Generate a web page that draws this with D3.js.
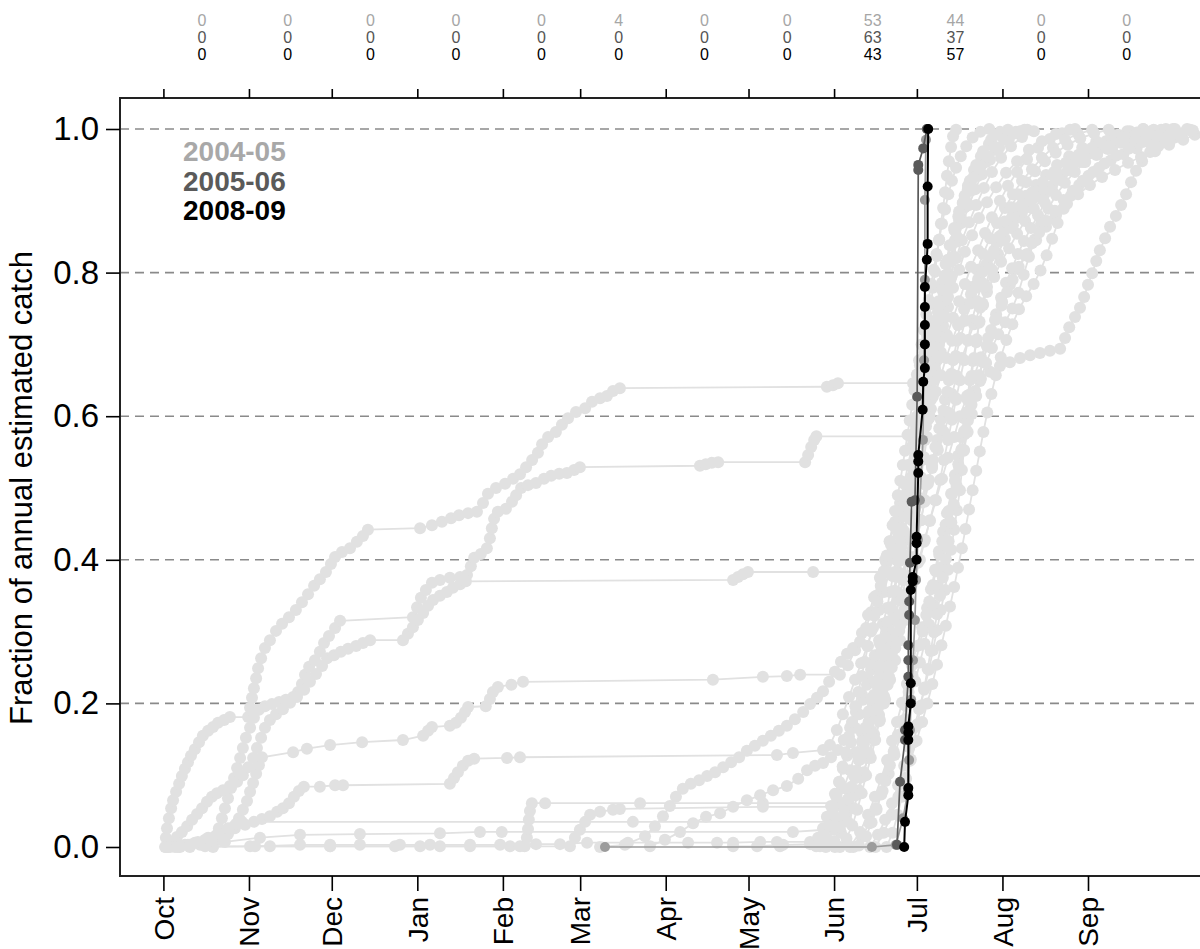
<!DOCTYPE html>
<html>
<head>
<meta charset="utf-8">
<script src="https://cdn.jsdelivr.net/npm/d3@7"></script>
<style>
  body { margin: 0; background: #fff; }
  svg { display: block; font-family: "Liberation Sans", Arial, sans-serif; }
</style>
</head>
<body>
<svg width="1200" height="949"></svg>
<script>
// Cumulative fraction of annual catch by day of season (day 0 = 1 Oct)
// Each run: [day of season, fraction]

// grey background seasons
var grey1 = [[0.6,0],[0.9,0.013],[1.3,0.026],[2.0,0.040],[2.8,0.054],[3.5,0.065],[4.6,0.077],[5.7,0.088],[6.7,0.099],[7.8,0.109],[8.9,0.118],[10.0,0.127],[11.4,0.136],[12.9,0.146],[14.3,0.155],[16.2,0.162],[18.0,0.167],[19.8,0.173],[22.0,0.177],[24.1,0.181],[30.7,0.181],[31.4,0.194],[32.1,0.208],[32.8,0.221],[33.6,0.235],[34.3,0.249],[35.4,0.263],[36.8,0.277],[38.6,0.288],[40.8,0.301],[43.0,0.311],[45.5,0.320],[48.0,0.330],[50.2,0.341],[52.4,0.352],[54.6,0.364],[56.7,0.373],[58.9,0.383],[60.7,0.394],[62.2,0.404],[64.7,0.411],[67.6,0.416],[70.1,0.425],[72.3,0.433],[74.1,0.442],[93.0,0.444],[97.3,0.448],[100.9,0.453],[104.2,0.458],[107.1,0.462],[110.4,0.465],[113.6,0.467],[115.8,0.479],[117.6,0.492],[120.5,0.500],[123.8,0.506],[126.7,0.513],[129.2,0.519],[131.4,0.529],[133.6,0.539],[135.7,0.549],[137.2,0.561],[139.4,0.571],[142.2,0.578],[144.4,0.588],[146.6,0.597],[149.5,0.606],[152.8,0.611],[155.3,0.620],[158.2,0.625],[160.7,0.628],[162.9,0.635],[165.4,0.639],[240.4,0.641],[242.6,0.643],[244.4,0.646],[271.6,0.646],[274.1,0.671],[276.3,0.695],[278.5,0.720],[280.6,0.745],[282.8,0.770],[285.0,0.795],[287.2,0.820],[289.3,0.845],[291.9,0.870],[294.5,0.894],[297.3,0.918],[300.2,0.940],[303.5,0.960],[307.1,0.976],[311.1,0.989],[315.4,0.997]];
var grey2 = [[18.0,0],[19.1,0.013],[20.1,0.026],[21.2,0.040],[22.3,0.054],[23.4,0.068],[24.5,0.082],[25.6,0.096],[26.7,0.110],[27.8,0.124],[28.8,0.138],[29.9,0.152],[31.4,0.166],[32.8,0.180],[34.6,0.191],[36.8,0.196],[39.3,0.199],[41.9,0.202],[44.4,0.205],[47.0,0.209],[48.8,0.216],[50.2,0.227],[51.3,0.240],[52.8,0.251],[54.9,0.260],[56.7,0.272],[58.2,0.284],[60.0,0.294],[62.2,0.305],[64.0,0.315],[90.4,0.320],[91.9,0.334],[93.3,0.347],[95.1,0.358],[97.3,0.368],[100.2,0.372],[103.8,0.375],[107.5,0.376],[110.0,0.379],[111.4,0.391],[112.6,0.403],[115.0,0.408],[117.2,0.416],[118.3,0.430],[119.0,0.444],[119.8,0.457],[121.2,0.467],[124.1,0.471],[126.3,0.481],[127.8,0.490],[129.6,0.500],[132.1,0.504],[135.0,0.507],[137.9,0.513],[140.5,0.517],[143.4,0.520],[146.2,0.521],[148.8,0.525],[150.9,0.529],[194.4,0.531],[196.5,0.533],[198.7,0.535],[201.0,0.536],[232.5,0.536],[233.6,0.546],[234.7,0.557],[235.8,0.567],[236.6,0.572],[270.5,0.572],[273.0,0.595],[275.2,0.618],[277.3,0.642],[279.6,0.666],[281.7,0.689],[283.9,0.713],[286.1,0.737],[288.3,0.760],[290.4,0.784],[292.6,0.808],[295.2,0.831],[297.7,0.855],[300.2,0.877],[303.1,0.900],[306.0,0.921],[309.3,0.940],[312.9,0.958],[316.9,0.974],[321.2,0.986],[325.6,0.994],[330.3,1]];
var grey3 = [[1.7,0],[3.1,0.007],[4.9,0.014],[6.7,0.021],[8.6,0.029],[10.4,0.038],[12.2,0.046],[14.0,0.054],[15.8,0.063],[17.6,0.070],[19.4,0.075],[21.6,0.079],[24.1,0.085],[26.7,0.091],[28.8,0.100],[30.7,0.111],[32.5,0.124],[33.9,0.138],[35.4,0.152],[36.8,0.166],[38.6,0.177],[40.8,0.185],[43.3,0.192],[45.9,0.201],[48.4,0.209],[51.0,0.219],[53.1,0.230],[55.3,0.241],[57.5,0.252],[59.3,0.263],[61.8,0.267],[64.3,0.272],[66.9,0.276],[69.8,0.280],[72.3,0.284],[74.9,0.288],[86.8,0.288],[88.6,0.297],[90.4,0.306],[92.2,0.316],[94.1,0.326],[95.9,0.336],[97.7,0.344],[100.2,0.350],[102.7,0.355],[104.9,0.361],[107.5,0.366],[109.6,0.370],[206.4,0.372],[208.2,0.376],[210.0,0.380],[211.8,0.383],[235.4,0.383],[265.1,0.383],[267.6,0.407],[269.8,0.430],[272.0,0.455],[274.1,0.480],[276.3,0.504],[278.5,0.528],[280.6,0.553],[282.8,0.578],[285.0,0.603],[287.2,0.625],[291.2,0.627],[295.9,0.649],[299.5,0.662],[303.1,0.670],[306.7,0.675],[310.4,0.681],[314.0,0.685],[317.6,0.688],[321.2,0.691],[324.9,0.694],[326.7,0.709],[328.2,0.724],[330.3,0.738],[332.1,0.751],[333.6,0.766],[335.0,0.783],[336.5,0.799],[338.0,0.816],[339.3,0.831],[341.2,0.848],[343.0,0.864],[345.1,0.879],[347.0,0.894],[348.8,0.909],[350.6,0.926],[352.4,0.942],[354.6,0.955],[357.5,0.968],[360.4,0.976],[363.3,0.983],[366.2,0.989],[369.1,0.994],[372.0,0.999]];
var grey4 = [[9.6,0],[13.3,0.003],[16.9,0.006],[20.5,0.010],[23.4,0.018],[25.6,0.029],[27.4,0.040],[28.8,0.052],[30.3,0.064],[31.4,0.077],[32.5,0.089],[33.6,0.102],[34.6,0.114],[35.7,0.125],[47.0,0.132],[52.0,0.137],[60.4,0.142],[72.0,0.146],[86.8,0.149],[94.1,0.155],[95.9,0.162],[97.3,0.167],[103.8,0.169],[106.0,0.173],[107.8,0.180],[109.3,0.188],[110.4,0.195],[116.8,0.196],[118.3,0.206],[119.4,0.216],[121.2,0.223],[126.1,0.226],[130.3,0.230],[199.1,0.233],[217.2,0.237],[225.9,0.238],[230.7,0.240],[245.1,0.240],[248.0,0.253],[250.6,0.274],[253.1,0.298],[255.3,0.323],[257.5,0.348],[259.6,0.375],[261.5,0.400],[263.3,0.426],[265.1,0.453],[266.9,0.479],[268.4,0.506],[269.8,0.532],[271.2,0.558],[272.7,0.585],[274.1,0.611],[275.6,0.638],[277.0,0.664],[278.5,0.691],[279.9,0.717],[281.4,0.744],[282.8,0.770],[284.3,0.797],[286.1,0.822],[287.9,0.847],[289.7,0.870],[291.9,0.894],[294.1,0.916],[296.6,0.937],[299.5,0.957],[302.8,0.974],[306.4,0.987],[310.4,0.997]];
var grey5 = [[4.2,0],[7.8,0.003],[11.4,0.006],[15.1,0.010],[18.7,0.015],[22.3,0.021],[25.9,0.026],[29.6,0.031],[32.8,0.035],[35.7,0.039],[38.6,0.043],[41.2,0.049],[43.3,0.054],[45.5,0.061],[47.3,0.070],[49.1,0.078],[50.9,0.084],[56.7,0.084],[62.2,0.086],[65.1,0.086],[103.8,0.088],[105.3,0.096],[106.7,0.104],[108.5,0.113],[110.4,0.120],[112.6,0.123],[124.5,0.124],[129.2,0.125],[222.3,0.128],[228.1,0.131],[239.0,0.135],[241.5,0.142],[244.0,0.163],[246.2,0.185],[248.4,0.209],[250.6,0.233],[252.8,0.256],[255.0,0.280],[257.1,0.305],[259.3,0.330],[261.1,0.355],[262.9,0.382],[264.7,0.408],[266.5,0.435],[268.0,0.461],[269.4,0.487],[270.9,0.514],[272.3,0.540],[273.8,0.567],[275.2,0.593],[276.7,0.620],[278.1,0.646],[279.6,0.673],[281.0,0.699],[282.5,0.726],[284.3,0.752],[286.1,0.779],[288.3,0.804],[290.4,0.829],[293.0,0.852],[295.5,0.876],[298.4,0.898],[301.7,0.919],[305.3,0.939],[309.3,0.955],[313.6,0.971],[318.3,0.983],[323.4,0.993],[328.5,0.999]];
var grey6 = [[2.4,0],[15.1,0.001],[31.4,0.001],[60.4,0.001],[83.9,0.001],[93.0,0.001],[111.1,0.001],[125.6,0.001],[130.9,0.001],[131.7,0.013],[132.1,0.025],[132.4,0.038],[132.8,0.050],[133.5,0.061],[138.3,0.061],[172.7,0.061],[217.2,0.061],[246.9,0.061],[249.5,0.079],[251.7,0.104],[253.5,0.130],[255.3,0.156],[257.1,0.182],[258.9,0.209],[260.7,0.235],[262.2,0.262],[263.6,0.288],[265.1,0.316],[266.5,0.344],[268.0,0.372],[269.1,0.400],[270.2,0.428],[271.2,0.455],[272.3,0.483],[273.4,0.511],[274.5,0.539],[275.6,0.567],[276.7,0.595],[277.7,0.623],[278.8,0.650],[279.9,0.678],[281.0,0.706],[282.1,0.734],[283.2,0.762],[284.3,0.790],[285.7,0.816],[287.2,0.843],[288.6,0.868],[290.4,0.891],[292.6,0.914],[295.2,0.935],[298.0,0.954],[301.3,0.971],[304.9,0.985],[308.9,0.996]];
var grey7 = [[5.3,0],[8.9,0.003],[12.5,0.007],[16.2,0.013],[19.8,0.019],[23.4,0.026],[26.3,0.032],[28.5,0.035],[170.1,0.035],[248.0,0.035],[250.2,0.054],[252.0,0.079],[253.8,0.104],[255.6,0.131],[257.5,0.157],[259.3,0.184],[261.1,0.210],[262.9,0.237],[264.3,0.263],[265.8,0.290],[267.2,0.316],[268.7,0.344],[270.2,0.372],[271.6,0.400],[273.0,0.428],[274.5,0.455],[275.9,0.483],[277.4,0.511],[278.8,0.539],[280.3,0.567],[281.7,0.595],[283.2,0.623],[284.6,0.650],[286.1,0.678],[287.5,0.705],[289.0,0.731],[290.8,0.756],[292.6,0.780],[294.8,0.804],[297.0,0.826],[299.5,0.848],[302.0,0.869],[304.9,0.890],[307.8,0.909],[311.1,0.928],[314.7,0.944],[318.3,0.960],[322.3,0.974],[326.7,0.985],[331.4,0.993],[336.5,0.999]];
var grey8 = [[0.9,0],[9.6,0.003],[22.3,0.007],[35.0,0.013],[49.5,0.017],[71.2,0.018],[100.2,0.019],[114.7,0.021],[122.6,0.021],[228.1,0.021],[239.7,0.024],[242.2,0.038],[244.4,0.058],[246.5,0.082],[248.8,0.107],[250.9,0.132],[253.1,0.159],[255.3,0.185],[257.5,0.212],[259.6,0.238],[261.5,0.265],[263.3,0.291],[265.1,0.318],[266.5,0.344],[268.0,0.372],[269.4,0.400],[270.5,0.428],[271.6,0.455],[272.7,0.483],[273.8,0.511],[274.9,0.539],[275.9,0.567],[277.0,0.595],[278.1,0.623],[279.2,0.650],[280.3,0.678],[281.4,0.706],[282.5,0.734],[283.6,0.762],[284.6,0.790],[285.7,0.818],[286.8,0.845],[288.3,0.872],[289.7,0.897],[291.5,0.921],[293.7,0.943],[296.2,0.962],[299.1,0.979],[302.4,0.992],[306.0,0.999]];
var grey9 = [[6.0,0],[38.6,0.001],[60.4,0.001],[100.2,0.001],[129.2,0.001],[147.3,0.001],[149.1,0.013],[150.9,0.024],[152.8,0.035],[154.6,0.045],[158.2,0.049],[162.9,0.052],[165.4,0.053],[217.2,0.056],[248.8,0.056],[250.9,0.072],[253.1,0.097],[255.3,0.124],[257.5,0.150],[259.6,0.177],[261.5,0.205],[263.3,0.233],[265.1,0.260],[266.9,0.288],[268.7,0.316],[270.5,0.344],[272.3,0.372],[274.1,0.400],[275.9,0.428],[277.7,0.455],[279.6,0.483],[281.4,0.511],[282.8,0.539],[284.3,0.567],[285.7,0.595],[287.2,0.623],[288.6,0.650],[290.1,0.678],[291.5,0.706],[293.0,0.734],[294.8,0.760],[296.6,0.786],[298.8,0.809],[301.0,0.831],[303.5,0.852],[306.4,0.872],[309.3,0.890],[312.6,0.907],[316.2,0.922],[319.8,0.936],[323.8,0.950],[328.2,0.962],[332.9,0.974],[338.0,0.983],[343.4,0.992],[349.2,0.997],[355.0,1]];
var grey10 = [[158.2,0],[167.2,0.003],[174.5,0.015],[178.1,0.029],[181.0,0.043],[183.5,0.057],[185.7,0.070],[188.2,0.081],[191.1,0.088],[194.1,0.093],[197.0,0.099],[199.9,0.104],[202.8,0.111],[205.7,0.118],[208.6,0.125],[211.4,0.134],[214.3,0.141],[217.2,0.148],[220.1,0.155],[223.0,0.162],[225.9,0.169],[228.8,0.178],[231.8,0.188],[234.3,0.199],[236.8,0.208],[239.0,0.217],[241.2,0.230],[243.3,0.244],[245.5,0.258],[247.7,0.269],[249.9,0.277],[252.4,0.286],[254.6,0.305],[256.4,0.327],[258.2,0.350],[260.0,0.373],[261.8,0.397],[263.6,0.421],[265.4,0.444],[267.2,0.468],[269.1,0.492],[270.9,0.515],[272.7,0.539],[274.5,0.563],[276.3,0.586],[278.1,0.610],[279.9,0.634],[281.7,0.657],[283.6,0.681],[285.7,0.705],[287.9,0.727],[290.1,0.749],[292.6,0.770],[295.2,0.791],[298.0,0.811],[301.0,0.829],[303.9,0.845],[307.1,0.862],[310.4,0.877],[314.0,0.891],[317.6,0.905],[321.2,0.918],[325.2,0.930],[329.2,0.943],[333.5,0.954],[337.9,0.964],[342.2,0.972],[346.9,0.981],[351.7,0.987],[356.4,0.993],[361.1,0.997],[365.8,1]];
var grey11 = [[176.3,0.001],[181.7,0.010],[187.2,0.021],[191.9,0.033],[196.6,0.042],[201.7,0.047],[206.4,0.056],[211.4,0.065],[216.2,0.072],[220.9,0.079],[225.9,0.085],[230.0,0.095],[233.2,0.107],[236.1,0.113],[239.0,0.117],[241.9,0.125],[244.4,0.135],[246.5,0.149],[248.8,0.166],[250.9,0.188],[253.1,0.212],[255.3,0.235],[257.5,0.259],[259.6,0.283],[261.8,0.306],[264.0,0.330],[265.8,0.355],[267.6,0.380],[269.4,0.405],[271.2,0.430],[273.0,0.455],[274.9,0.480],[276.7,0.506],[278.5,0.531],[280.3,0.556],[282.1,0.581],[283.9,0.606],[285.7,0.631],[287.5,0.656],[289.3,0.681],[291.5,0.705],[293.7,0.728],[295.9,0.751],[298.4,0.773],[301.0,0.794],[303.5,0.815],[306.4,0.834],[309.3,0.854],[312.2,0.872],[315.4,0.889],[318.7,0.905],[322.0,0.921],[325.6,0.936],[329.2,0.950],[333.2,0.962],[337.2,0.974],[341.5,0.983],[345.9,0.992],[350.2,0.997],[355.0,1]];
var grey12 = [[223.4,0.001],[237.9,0.001],[240.8,0.010],[243.0,0.024],[244.8,0.040],[246.5,0.058],[248.4,0.078],[250.2,0.099],[252.0,0.121],[253.8,0.143],[255.6,0.167],[257.5,0.191],[259.3,0.216],[261.1,0.241],[262.9,0.267],[264.7,0.294],[266.2,0.320],[267.6,0.348],[269.1,0.376],[270.2,0.404],[271.2,0.432],[272.3,0.460],[273.4,0.487],[274.5,0.515],[275.6,0.543],[276.7,0.571],[277.7,0.599],[278.8,0.627],[279.9,0.655],[281.0,0.682],[282.1,0.710],[283.2,0.738],[284.3,0.766],[285.4,0.794],[286.5,0.822],[287.5,0.850],[289.0,0.876],[290.4,0.903],[292.2,0.928],[294.5,0.950],[297.0,0.969],[299.9,0.985],[303.1,0.996]];
var grey13 = [[206.4,0.001],[215.1,0.001],[224.5,0.003],[234.3,0.004],[237.2,0.013],[239.0,0.026],[240.4,0.042],[241.9,0.057],[243.3,0.074],[244.8,0.091],[246.2,0.109],[247.7,0.127],[249.1,0.146],[250.6,0.166],[252.0,0.185],[253.5,0.205],[254.9,0.226],[256.4,0.247],[257.8,0.267],[259.3,0.288],[260.7,0.311],[262.2,0.333],[263.3,0.355],[264.3,0.377],[265.4,0.400],[266.5,0.422],[267.6,0.444],[268.7,0.467],[269.4,0.489],[270.2,0.511],[270.9,0.533],[271.6,0.556],[272.3,0.578],[273.0,0.600],[273.8,0.623],[274.5,0.645],[275.2,0.667],[275.9,0.689],[276.7,0.712],[277.4,0.734],[278.1,0.756],[278.8,0.779],[279.6,0.801],[280.3,0.823],[281.0,0.845],[281.7,0.868],[282.5,0.890],[283.2,0.912],[283.9,0.935],[284.6,0.955],[285.4,0.975],[286.1,0.990],[287.2,0.999]];
var grey14 = [[256.0,0],[258.9,0.017],[261.5,0.038],[264.0,0.061],[266.2,0.086],[268.4,0.113],[270.2,0.139],[272.0,0.166],[273.8,0.192],[275.6,0.219],[277.4,0.247],[278.8,0.274],[280.3,0.302],[281.7,0.330],[283.2,0.358],[284.3,0.386],[285.4,0.414],[286.5,0.442],[287.5,0.469],[288.6,0.497],[289.3,0.525],[290.1,0.553],[290.8,0.581],[291.5,0.606],[293.3,0.630],[295.2,0.653],[297.0,0.675],[298.4,0.698],[299.9,0.720],[301.7,0.742],[303.5,0.765],[305.3,0.786],[307.5,0.806],[309.6,0.826],[311.8,0.844],[314.3,0.862],[316.9,0.880],[319.4,0.897],[322.0,0.914],[324.9,0.929],[327.8,0.943],[331.0,0.955],[334.6,0.967],[338.6,0.975],[343.0,0.982],[347.3,0.987],[352.0,0.992],[356.7,0.996],[361.5,0.999],[366.5,1]];
var grey15 = [[248.8,0],[252.4,0.021],[255.3,0.045],[257.8,0.070],[260.0,0.095],[262.2,0.121],[264.0,0.148],[265.8,0.174],[267.6,0.201],[269.4,0.227],[271.2,0.253],[273.0,0.280],[274.9,0.306],[276.7,0.333],[278.1,0.359],[279.6,0.386],[281.0,0.412],[282.5,0.439],[283.9,0.465],[285.4,0.492],[286.8,0.518],[287.9,0.545],[289.0,0.571],[290.1,0.597],[291.2,0.624],[292.2,0.650],[293.3,0.677],[294.5,0.703],[295.5,0.730],[297.0,0.755],[298.4,0.780],[300.2,0.804],[302.4,0.826],[304.9,0.847],[307.8,0.866],[311.1,0.884],[314.7,0.901],[318.7,0.916],[323.1,0.930],[327.8,0.943],[332.9,0.954],[338.3,0.964],[343.7,0.972],[349.5,0.979],[355.3,0.985],[361.1,0.990],[366.9,0.994],[372.7,0.997]];
var grey16 = [[33.2,0.001],[49.5,0.003],[60.4,0.003],[71.2,0.003],[85.7,0.003],[96.6,0.003],[111.1,0.003],[122.0,0.003],[135.0,0.004],[143.7,0.004],[153.5,0.006],[168.3,0.006],[190.1,0.006],[200.6,0.006],[206.4,0.006],[216.2,0.007],[222.3,0.007],[234.3,0.007],[245.1,0.024],[247.3,0.049],[249.5,0.075],[251.7,0.103],[253.8,0.132],[256.0,0.162],[258.2,0.191],[260.4,0.220],[262.5,0.249],[264.7,0.279],[266.9,0.308],[269.1,0.337],[271.2,0.366],[273.4,0.396],[275.6,0.425],[277.7,0.454],[279.9,0.483],[282.1,0.513],[284.3,0.542],[286.5,0.571],[288.6,0.600],[291.2,0.628],[293.7,0.656],[296.2,0.682],[298.8,0.709],[301.3,0.734],[303.9,0.759],[306.7,0.783],[309.6,0.805],[312.9,0.826],[316.2,0.845],[319.8,0.864],[323.4,0.880],[327.4,0.896],[331.4,0.909],[335.7,0.922],[340.1,0.933],[344.8,0.943],[349.5,0.953],[354.2,0.961],[359.3,0.969],[364.4,0.978],[369.5,0.985],[373.7,0.992]];
var grey17 = [[245.1,0],[247.5,0.012],[249.6,0.030],[251.4,0.052],[253.0,0.075],[254.6,0.100],[256.3,0.124],[257.9,0.149],[259.4,0.175],[261.0,0.200],[262.4,0.226],[263.9,0.250],[265.2,0.277],[266.6,0.301],[268.1,0.327],[269.3,0.353],[270.6,0.378],[271.9,0.404],[273.1,0.429],[274.4,0.455],[275.8,0.481],[277.0,0.506],[278.4,0.532],[279.7,0.557],[281.1,0.583],[282.6,0.608],[284.0,0.634],[285.5,0.659],[287.1,0.684],[288.8,0.709],[290.6,0.733],[292.5,0.757],[294.6,0.779],[296.9,0.801],[299.3,0.822],[301.9,0.842],[304.8,0.861],[307.9,0.879],[311.2,0.896],[314.8,0.912],[318.6,0.926],[322.7,0.940],[327.0,0.953],[331.6,0.964],[336.5,0.974],[341.6,0.982],[347.0,0.989],[352.7,0.995],[358.8,0.999]];
var grey18 = [[250.0,0],[253.0,0.014],[255.8,0.033],[258.3,0.054],[260.6,0.078],[262.8,0.102],[264.9,0.128],[266.9,0.153],[268.8,0.178],[270.6,0.205],[272.4,0.231],[274.1,0.257],[275.8,0.283],[277.4,0.310],[279.0,0.337],[280.5,0.364],[282.0,0.390],[283.4,0.418],[284.8,0.445],[286.1,0.472],[287.4,0.500],[288.7,0.526],[290.0,0.552],[291.4,0.578],[292.9,0.603],[294.5,0.628],[296.2,0.652],[298.1,0.674],[300.2,0.695],[302.5,0.714],[305.0,0.731],[307.6,0.750],[309.8,0.772],[311.7,0.797],[313.6,0.822],[315.7,0.846],[318.0,0.868],[320.6,0.889],[323.4,0.908],[326.6,0.925],[330.2,0.940],[334.0,0.954],[338.2,0.966],[342.7,0.976],[347.5,0.985],[352.6,0.992],[357.9,0.997],[363.2,1]];
var grey19 = [[243.3,0],[245.5,0.020],[247.4,0.045],[249.2,0.070],[250.9,0.096],[252.5,0.122],[254.0,0.148],[255.5,0.174],[257.0,0.200],[258.4,0.226],[259.8,0.252],[261.2,0.278],[262.5,0.304],[263.8,0.330],[265.0,0.357],[266.2,0.383],[267.4,0.410],[268.5,0.436],[269.6,0.463],[270.7,0.490],[271.7,0.517],[272.7,0.544],[273.7,0.571],[274.7,0.598],[275.7,0.625],[276.7,0.652],[277.7,0.679],[278.7,0.706],[279.8,0.733],[280.9,0.760],[282.1,0.786],[283.4,0.812],[284.9,0.838],[286.5,0.862],[288.3,0.885],[290.3,0.907],[292.6,0.927],[295.2,0.945],[298.1,0.961],[301.3,0.975],[304.9,0.986],[308.8,0.994],[313.0,0.999]];
var grey20 = [[258.0,0],[261.0,0.020],[263.8,0.045],[266.3,0.070],[268.6,0.096],[270.8,0.122],[272.9,0.148],[274.9,0.174],[276.8,0.200],[278.6,0.227],[280.3,0.254],[281.9,0.281],[283.5,0.308],[285.0,0.335],[286.5,0.362],[287.9,0.389],[289.3,0.416],[290.6,0.443],[291.9,0.470],[293.2,0.497],[294.5,0.524],[295.8,0.551],[297.1,0.578],[298.5,0.605],[300.0,0.631],[301.6,0.657],[303.4,0.682],[305.4,0.706],[307.6,0.728],[310.0,0.749],[312.6,0.767],[315.3,0.784],[317.8,0.803],[320.0,0.824],[322.0,0.847],[324.0,0.869],[326.2,0.889],[328.8,0.907],[331.8,0.922],[335.2,0.935],[339.0,0.946],[343.2,0.956],[347.8,0.965],[352.6,0.973],[357.6,0.980],[362.8,0.987],[368.0,0.993],[373.0,0.998]];
var grey21 = [[240.0,0],[243.1,0.008],[245.0,0.027],[246.4,0.045],[247.9,0.066],[249.3,0.084],[250.6,0.106],[251.8,0.125],[253.1,0.147],[254.3,0.166],[255.6,0.189],[256.7,0.208],[258.0,0.231],[259.1,0.250],[260.3,0.273],[261.4,0.292],[262.5,0.314],[263.5,0.334],[264.6,0.356],[265.5,0.376],[266.5,0.398],[267.4,0.418],[268.3,0.440],[269.2,0.460],[270.1,0.482],[270.9,0.502],[271.8,0.524],[272.6,0.544],[273.5,0.566],[274.3,0.586],[275.1,0.608],[276.0,0.628],[276.8,0.650],[277.6,0.670],[278.5,0.692],[279.3,0.712],[280.2,0.734],[281.1,0.754],[282.1,0.776],[283.1,0.796],[284.2,0.818],[285.3,0.838],[286.6,0.859],[288.0,0.878],[289.6,0.897],[291.4,0.915],[293.4,0.932],[295.7,0.948],[298.3,0.962],[301.2,0.975],[304.4,0.986],[308.0,0.994],[312.0,0.999]];
var grey22 = [[252.0,0.002],[254.6,0.015],[256.6,0.034],[258.4,0.052],[260.1,0.073],[261.6,0.092],[263.2,0.114],[264.6,0.133],[266.1,0.156],[267.4,0.175],[268.8,0.197],[270.0,0.216],[271.4,0.239],[272.6,0.258],[273.9,0.281],[275.1,0.300],[276.4,0.323],[277.5,0.342],[278.8,0.365],[279.9,0.384],[281.1,0.407],[282.2,0.426],[283.4,0.449],[284.5,0.468],[285.7,0.491],[286.8,0.510],[288.0,0.533],[289.1,0.552],[290.3,0.575],[291.5,0.594],[292.8,0.616],[294.1,0.635],[295.5,0.657],[296.9,0.676],[298.5,0.697],[300.1,0.716],[301.9,0.736],[303.7,0.754],[305.7,0.773],[307.7,0.790],[309.9,0.808],[312.2,0.824],[314.7,0.841],[317.3,0.856],[320.1,0.872],[323.0,0.886],[326.2,0.901],[329.5,0.914],[333.1,0.928],[336.9,0.940],[341.0,0.952],[345.3,0.963],[349.9,0.973],[354.8,0.982],[359.9,0.990],[365.3,0.996],[370.9,1]];
var grey23 = [[236.5,0.001],[239.7,0.012],[241.3,0.030],[242.5,0.050],[243.8,0.070],[244.9,0.090],[246.1,0.112],[247.2,0.132],[248.4,0.154],[249.5,0.174],[250.7,0.196],[251.8,0.216],[253.0,0.238],[254.1,0.258],[255.3,0.280],[256.4,0.300],[257.6,0.322],[258.7,0.342],[259.9,0.364],[261.0,0.384],[262.1,0.406],[263.1,0.426],[264.2,0.448],[265.1,0.468],[266.1,0.490],[267.0,0.510],[267.9,0.532],[268.7,0.552],[269.6,0.574],[270.4,0.594],[271.3,0.616],[272.1,0.636],[273.0,0.658],[273.8,0.678],[274.7,0.700],[275.5,0.720],[276.4,0.742],[277.3,0.762],[278.2,0.784],[279.1,0.804],[280.1,0.826],[281.1,0.846],[282.1,0.868],[283.2,0.888],[284.4,0.909],[285.7,0.928],[287.2,0.946],[288.9,0.962],[290.9,0.976],[293.2,0.988],[296.0,0.996],[299.2,1]];
var grey24 = [[262.0,0],[264.2,0.020],[266.0,0.045],[267.6,0.070],[269.1,0.095],[270.5,0.120],[271.9,0.146],[273.2,0.171],[274.5,0.197],[275.7,0.222],[276.9,0.248],[278.0,0.273],[279.2,0.299],[280.3,0.324],[281.4,0.350],[282.4,0.375],[283.5,0.401],[284.5,0.426],[285.5,0.452],[286.4,0.477],[287.4,0.503],[288.3,0.528],[289.2,0.554],[290.1,0.579],[291.0,0.605],[291.9,0.630],[292.8,0.656],[293.7,0.681],[294.7,0.707],[295.7,0.732],[296.8,0.757],[298.0,0.781],[299.4,0.805],[301.0,0.828],[302.8,0.850],[304.8,0.871],[307.1,0.891],[309.7,0.909],[312.6,0.926],[315.8,0.941],[319.4,0.955],[323.3,0.967],[327.6,0.978],[332.2,0.987],[337.2,0.994],[342.5,0.999]];

var greyRuns = [grey1, grey2, grey3, grey4, grey5, grey6, grey7, grey8, grey9, grey10, grey11, grey12,
                grey13, grey14, grey15, grey16, grey17, grey18, grey19, grey20, grey21, grey22, grey23, grey24];

// highlighted seasons
var run2004 = [[160.0,0],[256.7,0],[265.4,0.003],[268.0,0.040],[269.8,0.079],[270.2,0.121],[270.5,0.163],[270.9,0.205],[271.6,0.260],[272.3,0.316],[272.7,0.372],[273.4,0.428],[274.1,0.483],[275.2,0.567],[275.6,0.678],[275.9,0.790],[275.9,0.901],[276.3,0.985],[277.0,1]];
var run2005 = [[265.8,0.003],[266.9,0.091],[268.7,0.149],[268.7,0.163],[269.9,0.237],[269.9,0.260],[269.9,0.281],[270.2,0.323],[270.2,0.342],[270.5,0.396],[271.1,0.481],[272.3,0.483],[273.1,0.627],[273.5,0.943],[273.5,0.950],[275.3,0.973],[276.6,1]];
var run2008 = [[268.4,0],[268.7,0.035],[269.9,0.072],[269.9,0.082],[269.9,0.149],[269.9,0.159],[269.9,0.168],[270.8,0.200],[270.8,0.228],[270.8,0.358],[271.5,0.370],[271.5,0.376],[272.9,0.400],[272.9,0.423],[272.9,0.432],[273.5,0.521],[273.5,0.537],[273.5,0.546],[275.1,0.609],[275.3,0.648],[275.9,0.667],[275.9,0.700],[275.9,0.727],[275.9,0.752],[275.9,0.780],[276.6,0.818],[276.9,0.840],[276.9,0.920],[277.1,1]];

var seasonNames = ["2004-05", "2005-06", "2008-09"];
var seasonRuns = [run2004, run2005, run2008];

// percent of catch per month (Oct..Sep), one row per highlighted season
var pct2004 = [0, 0, 0, 0, 0, 4, 0, 0, 53, 44, 0, 0];
var pct2005 = [0, 0, 0, 0, 0, 0, 0, 0, 63, 37, 0, 0];
var pct2008 = [0, 0, 0, 0, 0, 0, 0, 0, 43, 57, 0, 0];
var monthPcts = [pct2004, pct2005, pct2008];

var yTicks = [0, 0.2, 0.4, 0.6, 0.8, 1.0];
var gridValues = [0.2, 0.4, 0.6, 0.8, 1.0];

// Styling
var seasonColors = ["#9c9c9c", "#5a5a5a", "#000000"],
    legendColors = ["#a8a8a8", "#5a5a5a", "#000000"],
    pctColors = ["#a6a6a6", "#555555", "#000000"],
    greyColor = "#e1e1e1";

// Canvas
var svg = d3.select("svg"),
    width = +svg.attr("width"),
    height = +svg.attr("height");

var box = {left: 120, top: 98, right: 1216, bottom: 876};

var dayMs = 864e5,
    seasonStart = Date.UTC(2000, 9, 1);
function toDate(d) { return new Date(seasonStart + d * dayMs); }

var x = d3.scaleUtc()
    .domain([toDate(0), new Date(Date.UTC(2001, 8, 1))])
    .range([163.4, 1088]);
var y = d3.scaleLinear().domain([0, 1]).range([847, 129]);

var months = d3.utcMonths(new Date(seasonStart), new Date(Date.UTC(2001, 9, 1)));

// clip for the data marks
svg.append("clipPath").attr("id", "plotclip")
  .append("rect")
    .attr("x", box.left).attr("y", box.top)
    .attr("width", box.right - box.left).attr("height", box.bottom - box.top);

// dashed reference lines
svg.append("g").selectAll("line")
  .data(gridValues)
  .join("line")
    .attr("x1", box.left).attr("x2", box.right)
    .attr("y1", d => y(d)).attr("y2", d => y(d))
    .attr("stroke", "#8a8a8a")
    .attr("stroke-width", 1.6)
    .attr("stroke-dasharray", "9,6");

var line = d3.line()
    .x(d => x(toDate(d[0])))
    .y(d => y(d[1]));

var plot = svg.append("g").attr("clip-path", "url(#plotclip)");

// grey seasons: lines then dots
plot.append("g").selectAll("path")
  .data(greyRuns)
  .join("path")
    .attr("d", line)
    .attr("fill", "none")
    .attr("stroke", greyColor)
    .attr("stroke-width", 1.8);

plot.append("g").selectAll("g")
  .data(greyRuns)
  .join("g")
  .selectAll("circle")
  .data(d => d)
  .join("circle")
    .attr("cx", d => x(toDate(d[0])))
    .attr("cy", d => y(d[1]))
    .attr("r", 6)
    .attr("fill", greyColor);

// highlighted seasons, drawn in order
seasonRuns.forEach(function(run, i) {
  var g = plot.append("g");
  g.append("path")
      .datum(run)
      .attr("d", line)
      .attr("fill", "none")
      .attr("stroke", seasonColors[i])
      .attr("stroke-width", i == 2 ? 2 : 1.7);
  g.selectAll("circle")
    .data(run)
    .join("circle")
      .attr("cx", d => x(toDate(d[0])))
      .attr("cy", d => y(d[1]))
      .attr("r", 5)
      .attr("fill", seasonColors[i]);
});

// frame
svg.append("rect")
    .attr("x", box.left).attr("y", box.top)
    .attr("width", box.right - box.left).attr("height", box.bottom - box.top)
    .attr("fill", "none")
    .attr("stroke", "#222")
    .attr("stroke-width", 2);

// bottom axis: months
var bottomAxis = svg.append("g")
    .attr("transform", "translate(0," + box.bottom + ")")
    .call(d3.axisBottom(x).tickValues(months.slice(0, 12)).tickFormat(d3.utcFormat("%b")).tickSize(15).tickSizeOuter(0));
bottomAxis.select(".domain").remove();
bottomAxis.selectAll("line").attr("stroke", "#000").attr("stroke-width", 1.6);
bottomAxis.selectAll("text")
    .attr("font-size", 28)
    .attr("font-family", "Liberation Sans, Arial, sans-serif")
    .attr("fill", "#000")
    .attr("transform", "rotate(-90)")
    .attr("text-anchor", "end")
    .attr("x", -21)
    .attr("y", 0)
    .attr("dy", "0.35em");

// top axis: ticks only
var topAxis = svg.append("g")
    .attr("transform", "translate(0," + box.top + ")")
    .call(d3.axisTop(x).tickValues(months.slice(0, 12)).tickFormat("").tickSize(9).tickSizeOuter(0));
topAxis.select(".domain").remove();
topAxis.selectAll("line").attr("stroke", "#000").attr("stroke-width", 1.6);

// monthly percentages above the top axis
monthPcts.forEach(function(row, i) {
  svg.append("g").selectAll("text")
    .data(row)
    .join("text")
      .attr("x", (d, m) => x(d3.utcDay.offset(months[m], 14)))
      .attr("y", 26 + i * 17)
      .attr("text-anchor", "middle")
      .attr("font-size", 16)
      .attr("fill", pctColors[i])
      .text(d => d);
});

// left axis
var leftAxis = svg.append("g")
    .attr("transform", "translate(" + box.left + ",0)")
    .call(d3.axisLeft(y).tickValues(yTicks).tickFormat(d3.format(".1f")).tickSize(14).tickPadding(7));
leftAxis.select(".domain").remove();
leftAxis.selectAll("line").attr("stroke", "#000").attr("stroke-width", 1.6);
leftAxis.selectAll("text")
    .attr("font-size", 33)
    .attr("font-family", "Liberation Sans, Arial, sans-serif")
    .attr("fill", "#000");

// y title
svg.append("text")
    .attr("transform", "translate(32," + ((y(0) + y(1)) / 2) + ") rotate(-90)")
    .attr("text-anchor", "middle")
    .attr("font-size", 31)
    .attr("fill", "#000")
    .text("Fraction of annual estimated catch");

// legend
svg.append("g").selectAll("text")
  .data(seasonNames)
  .join("text")
    .attr("x", 183)
    .attr("y", (d, i) => 161 + i * 29.5)
    .attr("font-size", 28)
    .attr("font-weight", "bold")
    .attr("fill", (d, i) => legendColors[i])
    .text(d => d);
</script>
</body>
</html>
